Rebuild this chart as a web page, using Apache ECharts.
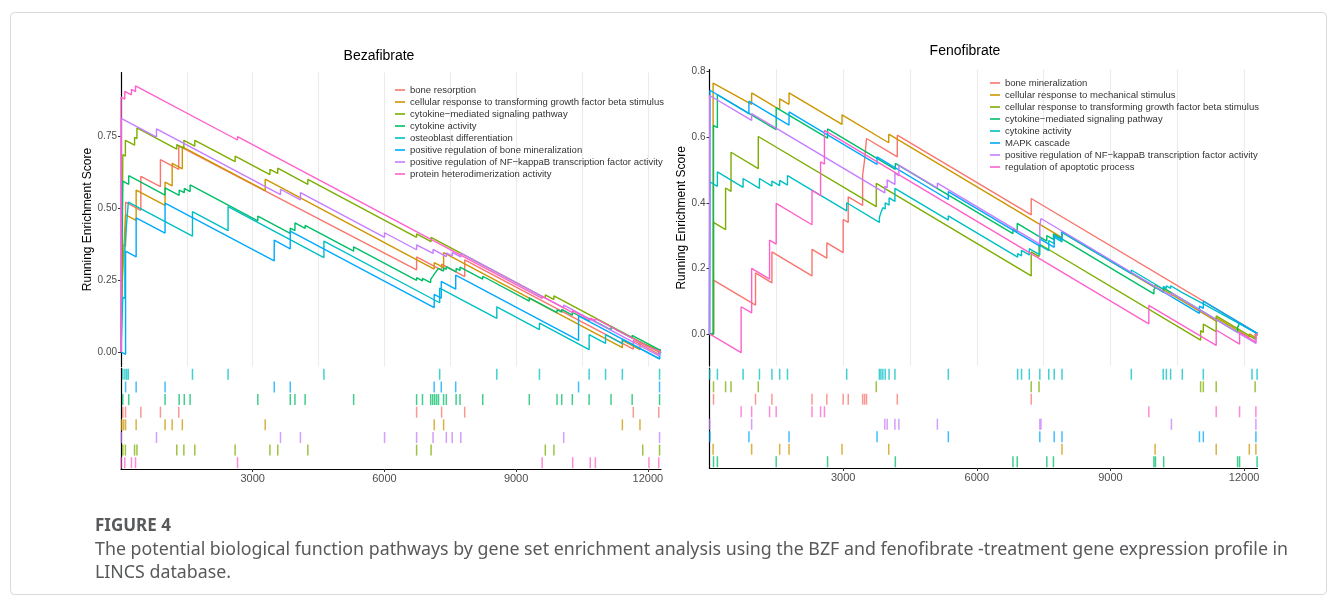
<!DOCTYPE html>
<html>
<head>
<meta charset="utf-8">
<title>Figure 4</title>
<script src="https://cdn.jsdelivr.net/npm/echarts@6/dist/echarts.min.js"></script>
<style>
  html, body { margin: 0; padding: 0; background: #fff; }
  #chart { width: 1333px; height: 600px; }
</style>
</head>
<body>
<div id="chart"></div>
<script>
// ggplot hue palette, one colour per gene set
var hueColors = ['#F8766D', '#CD9600', '#7CAE00', '#00BE67', '#00BFC4', '#00A9FF', '#C77CFF', '#FF61CC'];

var bzfNames = [
  'bone resorption',
  'cellular response to transforming growth factor beta stimulus',
  'cytokine\u2212mediated signaling pathway',
  'cytokine activity',
  'osteoblast differentiation',
  'positive regulation of bone mineralization',
  'positive regulation of NF\u2212kappaB transcription factor activity',
  'protein heterodimerization activity'
];
var fenoNames = [
  'bone mineralization',
  'cellular response to mechanical stimulus',
  'cellular response to transforming growth factor beta stimulus',
  'cytokine\u2212mediated signaling pathway',
  'cytokine activity',
  'MAPK cascade',
  'positive regulation of NF\u2212kappaB transcription factor activity',
  'regulation of apoptotic process'
];

// rug rows, top to bottom (index into the names above)
var bzfRugOrder = [4, 5, 3, 0, 1, 6, 2, 7];
var fenoRugOrder = [4, 2, 0, 7, 6, 5, 1, 3];

var xTicks = [3000, 6000, 9000, 12000];
var bzfYTicks = [0, 0.25, 0.5, 0.75];
var fenoYTicks = [0, 0.2, 0.4, 0.6, 0.8];

// running enrichment score, [rank, score] vertices
var bzfResorption = [[0,0],[42,-0.003],[42,0.372],[104,0.367],[104,0.52],[452,0.492],[452,0.61],[898,0.574],[898,0.668],[1316,0.634],[1316,0.716],[6733,0.285],[6733,0.33],[7303,0.284],[7303,0.305],[7829,0.262],[7829,0.32],[11669,0.01],[11669,0.04],[12249,-0.007],[12249,0.004],[12300,0]];
var bzfTgf = [[0,0],[15,0],[15,0.2],[60,0.196],[60,0.34],[104,0.336],[104,0.476],[345,0.457],[345,0.562],[1004,0.509],[1004,0.59],[1165,0.577],[1165,0.655],[1397,0.636],[1397,0.712],[3285,0.56],[3285,0.6],[7134,0.288],[7134,0.31],[7348,0.293],[7348,0.345],[11420,0.015],[11420,0.04],[11821,0.008],[11821,0.035],[12300,-0.004]];
var bzfCytokinePathway = [[0,0],[42,0],[42,0.685],[100,0.68],[100,0.735],[309,0.718],[309,0.745],[363,0.741],[363,0.778],[1271,0.704],[1271,0.72],[1432,0.707],[1432,0.735],[1681,0.715],[1681,0.735],[2599,0.661],[2599,0.68],[3392,0.616],[3392,0.634],[3570,0.62],[3570,0.638],[4256,0.582],[4256,0.599],[6733,0.398],[6733,0.41],[7063,0.383],[7063,0.398],[9665,0.187],[9665,0.198],[9861,0.182],[9861,0.195],[11884,0.031],[11884,0.036],[12267,0.005],[12267,0.01],[12300,0.007]];
var bzfCytokineActivity = [[0,0],[40,0],[40,0.593],[176,0.582],[176,0.612],[1004,0.545],[1004,0.57],[1325,0.544],[1325,0.562],[1441,0.553],[1441,0.568],[1574,0.557],[1574,0.58],[3116,0.455],[3116,0.472],[3855,0.412],[3855,0.43],[3962,0.421],[3962,0.448],[4194,0.429],[4194,0.44],[5299,0.35],[5299,0.365],[6733,0.249],[6733,0.258],[6867,0.247],[6867,0.256],[7054,0.241],[7054,0.252],[7099,0.248],[7099,0.262],[7143,0.258],[7143,0.272],[7188,0.268],[7188,0.282],[7232,0.278],[7232,0.29],[7348,0.281],[7348,0.292],[7410,0.287],[7410,0.296],[7633,0.278],[7633,0.29],[7722,0.283],[7722,0.295],[8239,0.253],[8239,0.263],[9300,0.177],[9300,0.188],[9932,0.137],[9932,0.147],[10039,0.138],[10039,0.148],[10280,0.128],[10280,0.138],[10663,0.107],[10663,0.117],[11162,0.077],[11162,0.087],[11643,0.048],[11643,0.058],[12267,0.007],[12267,0.01],[12300,0.007]];
var bzfOsteoblast = [[0,0],[42,0],[42,0.19],[90,0.186],[90,0.36],[130,0.357],[130,0.45],[167,0.447],[167,0.52],[1628,0.402],[1628,0.487],[2439,0.421],[2439,0.505],[4622,0.328],[4622,0.385],[7259,0.171],[7259,0.222],[8560,0.117],[8560,0.157],[9531,0.078],[9531,0.1],[10663,0.008],[10663,0.06],[11037,0.03],[11037,0.06],[11420,0.029],[11420,0.045],[12267,-0.024],[12267,0],[12300,-0.003]];
var bzfBoneMin = [[0,0],[104,-0.008],[104,0.35],[345,0.33],[345,0.466],[1004,0.413],[1004,0.517],[3490,0.316],[3490,0.388],[3855,0.358],[3855,0.42],[7134,0.154],[7134,0.2],[7295,0.187],[7295,0.245],[7624,0.218],[7624,0.267],[10422,0.04],[10422,0.125],[12267,-0.024],[12267,0],[12300,-0.003]];
var bzfNfkb = [[0,0],[5,0],[5,0.811],[808,0.746],[808,0.775],[3633,0.546],[3633,0.565],[4087,0.528],[4087,0.553],[6003,0.398],[6003,0.414],[6733,0.355],[6733,0.372],[7108,0.342],[7108,0.356],[7410,0.331],[7410,0.344],[7544,0.333],[7544,0.346],[7740,0.33],[7740,0.343],[10084,0.153],[10084,0.163],[12267,-0.014],[12267,0],[12300,-0.003]];
var bzfHeterodim = [[0,0],[1,0],[1,0.885],[86,0.878],[86,0.905],[238,0.893],[238,0.912],[331,0.904],[331,0.924],[2654,0.736],[2654,0.748],[9593,0.186],[9593,0.193],[10288,0.137],[10288,0.144],[10689,0.111],[10689,0.118],[10805,0.109],[10805,0.116],[12026,0.017],[12026,0.022],[12249,0.004],[12249,0.006],[12300,0.002]];

var fenoBoneMin = [[0,0],[90,0],[90,0.164],[1033,0.088],[1033,0.186],[1401,0.156],[1401,0.25],[2301,0.177],[2301,0.258],[2633,0.231],[2633,0.278],[3000,0.248],[3000,0.349],[3114,0.34],[3114,0.418],[3437,0.392],[3437,0.485],[3481,0.481],[3481,0.53],[3524,0.527],[3524,0.596],[4215,0.54],[4215,0.606],[7221,0.363],[7221,0.413],[12300,0.002]];
var fenoMech = [[0,0],[81,0],[81,0.765],[946,0.7],[946,0.735],[1575,0.684],[1575,0.717],[1785,0.7],[1785,0.735],[2974,0.639],[2974,0.668],[4023,0.583],[4023,0.609],[7912,0.294],[7912,0.31],[10001,0.141],[10001,0.15],[11373,0.039],[11373,0.05],[12116,-0.01],[12116,0],[12264,-0.012],[12264,0.002],[12300,-0.001]];
var fenoTgf = [[0,0],[90,0],[90,0.34],[361,0.318],[361,0.445],[483,0.435],[483,0.554],[1095,0.504],[1095,0.602],[3743,0.388],[3743,0.459],[7221,0.177],[7221,0.25],[7396,0.236],[7396,0.275],[11023,-0.019],[11023,0.01],[11084,0.005],[11084,0.03],[11373,0.007],[11373,0.055],[12247,-0.016],[12247,0],[12300,-0.004]];
var fenoCytokinePathway = [[0,0],[90,0],[90,0.636],[177,0.629],[177,0.73],[1497,0.623],[1497,0.69],[2650,0.597],[2650,0.625],[4171,0.502],[4171,0.52],[6811,0.306],[6811,0.32],[6907,0.312],[6907,0.337],[7571,0.283],[7571,0.3],[7720,0.288],[7720,0.305],[9975,0.122],[9975,0.135],[10010,0.132],[10010,0.142],[10194,0.127],[10194,0.14],[11854,0.005],[11854,0.02],[11898,0.016],[11898,0.033],[12291,0.001],[12291,0.003],[12300,0.002]];
var fenoCytokineActivity = [[0,0],[5,0],[5,0.464],[177,0.45],[177,0.494],[754,0.447],[754,0.474],[1121,0.444],[1121,0.474],[1401,0.451],[1401,0.466],[1575,0.452],[1575,0.468],[1750,0.454],[1750,0.483],[3079,0.375],[3079,0.4],[3813,0.34],[3813,0.355],[3848,0.352],[3848,0.37],[3891,0.366],[3891,0.385],[3944,0.381],[3944,0.4],[4031,0.393],[4031,0.415],[4162,0.404],[4162,0.444],[5360,0.347],[5360,0.36],[6916,0.234],[6916,0.245],[7003,0.238],[7003,0.255],[7178,0.241],[7178,0.26],[7414,0.241],[7414,0.27],[7615,0.254],[7615,0.285],[7737,0.275],[7737,0.295],[7912,0.281],[7912,0.31],[9468,0.184],[9468,0.195],[10184,0.137],[10184,0.145],[10254,0.139],[10254,0.147],[10350,0.139],[10350,0.147],[10612,0.126],[10612,0.13],[11084,0.092],[11084,0.098],[12177,0.01],[12177,0.012],[12291,0.003],[12291,0.004],[12300,0.003]];
var fenoMapk = [[0,0],[10,0],[10,0.743],[885,0.672],[885,0.71],[1785,0.637],[1785,0.677],[3760,0.517],[3760,0.54],[5360,0.41],[5360,0.434],[7414,0.268],[7414,0.29],[7737,0.264],[7737,0.3],[7912,0.286],[7912,0.313],[10997,0.063],[10997,0.085],[11084,0.078],[11084,0.1],[12264,0.004],[12264,0.006],[12300,0.003]];
var fenoNfkb = [[0,0],[5,0],[5,0.727],[946,0.651],[946,0.672],[3935,0.43],[3935,0.45],[3988,0.446],[3988,0.47],[4162,0.456],[4162,0.49],[4250,0.483],[4250,0.515],[5115,0.445],[5115,0.46],[7414,0.274],[7414,0.33],[7440,0.328],[7440,0.352],[10368,0.115],[10368,0.125],[12264,-0.029],[12264,0],[12300,-0.003]];
var fenoApoptotic = [[0,0],[710,-0.057],[710,0.083],[946,0.064],[946,0.2],[1348,0.167],[1348,0.286],[1497,0.274],[1497,0.398],[2301,0.333],[2301,0.438],[2493,0.422],[2493,0.525],[2580,0.518],[2580,0.621],[9861,0.031],[9861,0.087],[11373,-0.035],[11373,0.012],[11898,-0.031],[11898,0.005],[12264,-0.025],[12264,0],[12300,-0.003]];

var bzfLines = [bzfResorption, bzfTgf, bzfCytokinePathway, bzfCytokineActivity, bzfOsteoblast, bzfBoneMin, bzfNfkb, bzfHeterodim];
var fenoLines = [fenoBoneMin, fenoMech, fenoTgf, fenoCytokinePathway, fenoCytokineActivity, fenoMapk, fenoNfkb, fenoApoptotic];

var FONT = '"Liberation Sans", Arial, sans-serif';

// gene hits = ranks where the running score jumps up
function hitsOf(line) {
  var hits = [];
  for (var k = 0; k < line.length - 1; k++) {
    if (line[k][0] === line[k + 1][0] && line[k + 1][1] > line[k][1]) hits.push(line[k][0]);
  }
  return hits;
}

var series = [];
function addPanel(names, lines, rugOrder, scoreAxis, rugAxis) {
  names.forEach(function (name, i) {
    series.push({
      type: 'line', name: name,
      xAxisIndex: scoreAxis, yAxisIndex: scoreAxis,
      data: lines[i],
      showSymbol: false, silent: true,
      lineStyle: { width: 1.4, color: hueColors[i] },
      itemStyle: { color: hueColors[i] }
    });
  });
  names.forEach(function (name, i) {
    series.push({
      type: 'scatter', name: name,
      xAxisIndex: rugAxis, yAxisIndex: rugAxis,
      symbol: 'rect', symbolSize: [1.5, 11], silent: true,
      itemStyle: { color: hueColors[i], opacity: 0.75 },
      data: hitsOf(lines[i]).map(function (r) { return [r, String(rugOrder.indexOf(i))]; })
    });
  });
}
addPanel(bzfNames, bzfLines, bzfRugOrder, 0, 1);
addPanel(fenoNames, fenoLines, fenoRugOrder, 2, 3);

function scoreX(gridIndex) {
  return {
    type: 'value', gridIndex: gridIndex, min: 0, max: 12300, interval: 1500,
    axisLine: { show: false }, axisTick: { show: false }, axisLabel: { show: false },
    splitLine: { show: true, showMaxLine: false, lineStyle: { color: '#ebebeb', width: 1.1 } }
  };
}
function rugX(gridIndex) {
  return {
    type: 'value', gridIndex: gridIndex, min: 0, max: 12300,
    axisLine: { show: true, lineStyle: { color: '#000', width: 1.2 } },
    axisTick: { show: true, customValues: xTicks, length: 3, lineStyle: { color: '#333' } },
    axisLabel: { customValues: xTicks, color: '#4d4d4d', fontSize: 11, margin: 4, fontFamily: FONT,
      formatter: function (v) { return String(v); } },
    splitLine: { show: false }
  };
}
function scoreY(gridIndex, min, max, ticks, digits, gap) {
  return {
    type: 'value', gridIndex: gridIndex, min: min, max: max,
    name: 'Running Enrichment Score', nameLocation: 'middle', nameGap: gap,
    nameTextStyle: { fontSize: 12, color: '#000', fontFamily: FONT },
    axisLine: { show: true, onZero: false, lineStyle: { color: '#000', width: 1.2 } },
    axisTick: { show: true, customValues: ticks, length: 3, lineStyle: { color: '#333' } },
    axisLabel: { customValues: ticks, fontSize: 10, color: '#4d4d4d', margin: 4, fontFamily: FONT,
      formatter: function (v) { return v.toFixed(digits); } },
    splitLine: { show: false }
  };
}
function rugY(gridIndex) {
  return {
    type: 'category', gridIndex: gridIndex, inverse: true,
    data: ['0', '1', '2', '3', '4', '5', '6', '7'],
    axisLine: { show: true, lineStyle: { color: '#000', width: 1.2 } },
    axisTick: { show: false }, axisLabel: { show: false }, splitLine: { show: false }
  };
}
function legendFor(names, left, top) {
  return {
    orient: 'vertical', left: left, top: top, selectedMode: false,
    icon: 'rect', itemWidth: 10, itemHeight: 1.6, itemGap: 0,
    textStyle: { fontSize: 9.5, lineHeight: 12, color: '#333', fontFamily: FONT },
    data: names.map(function (n, i) { return { name: n, itemStyle: { color: hueColors[i] } }; })
  };
}

var chart = echarts.init(document.getElementById('chart'), null, { renderer: 'canvas' });
chart.setOption({
  animation: false,
  backgroundColor: '#fff',
  title: [
    { text: 'Bezafibrate', left: 374, top: 44, textAlign: 'center',
      textStyle: { fontSize: 14, fontWeight: 'normal', color: '#000', fontFamily: FONT } },
    { text: 'Fenofibrate', left: 960, top: 39, textAlign: 'center',
      textStyle: { fontSize: 14, fontWeight: 'normal', color: '#000', fontFamily: FONT } }
  ],
  legend: [legendFor(bzfNames, 390, 79), legendFor(fenoNames, 985, 72)],
  grid: [
    { left: 121, top: 72.6, width: 540, height: 293.8 },
    { left: 121, top: 368, width: 540, height: 101 },
    { left: 709.5, top: 69.6, width: 548, height: 296.5 },
    { left: 709.5, top: 368, width: 548, height: 100 }
  ],
  xAxis: [scoreX(0), rugX(1), scoreX(2), rugX(3)],
  yAxis: [
    scoreY(0, -0.05, 0.97, bzfYTicks, 2, 27),
    rugY(1),
    scoreY(2, -0.098, 0.806, fenoYTicks, 1, 22),
    rugY(3)
  ],
  series: series,
  graphic: [
    { type: 'rect', left: 8, top: 10, silent: true,
      shape: { width: 1316, height: 582, r: 4 },
      style: { fill: 'none', stroke: '#d9d9d9', lineWidth: 1 } },
    { type: 'text', left: 95, top: 518, silent: true,
      style: { text: 'FIGURE 4', font: 'bold 17px "Noto Sans", sans-serif', fill: '#58595b' } },
    { type: 'text', left: 95, top: 541, silent: true,
      style: { text: 'The potential biological function pathways by gene set enrichment analysis using the BZF and fenofibrate -treatment gene expression profile in',
        font: '17.8px "Noto Sans", sans-serif', fill: '#58595b' } },
    { type: 'text', left: 95, top: 564, silent: true,
      style: { text: 'LINCS database.', font: '17.8px "Noto Sans", sans-serif', fill: '#58595b' } }
  ]
});
</script>
</body>
</html>
